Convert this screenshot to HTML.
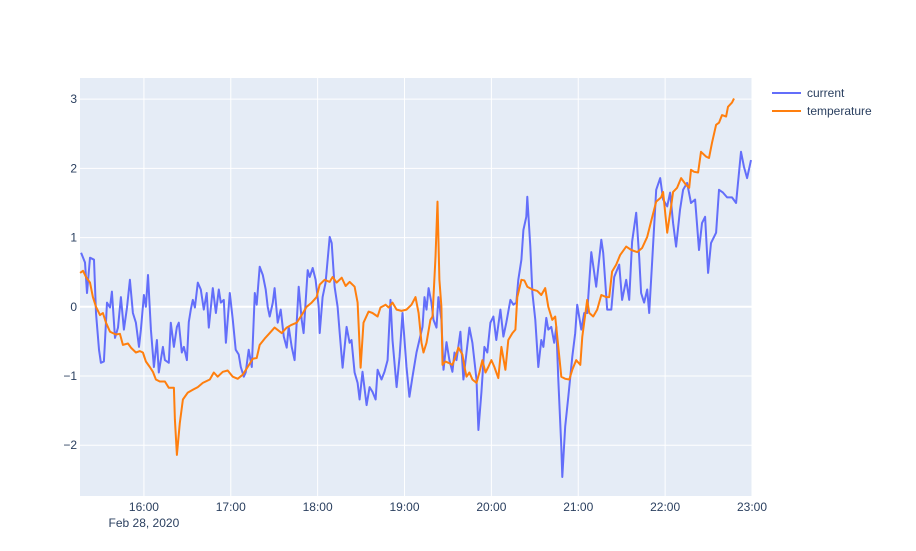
<!DOCTYPE html>
<html><head><meta charset="utf-8"><style>
html,body{margin:0;padding:0;background:#fff;}
svg text{font-family:"Liberation Sans",sans-serif;fill:#2a3f5f;font-size:12px;}
</style></head><body>
<svg id="chart" width="916" height="546">
<rect x="80" y="78" width="672" height="418" fill="#e5ecf6"/>
<g id="grid"></g>
<g id="series"></g>
<g id="ticks"></g>
<g>
<g><line x1="772" y1="93" x2="801" y2="93" stroke="#636efa" stroke-width="2"/><text x="807" y="97">current</text></g>
<g><line x1="772" y1="111" x2="801" y2="111" stroke="#ff7f0e" stroke-width="2"/><text x="807" y="115">temperature</text></g>
</g>
</svg>
<script>
// minutes after 15:00 on Feb 28, 2020
const curT=[16.6,19.3,20.7,22.8,25.5,26.9,29.0,30.3,32.4,34.5,36.6,37.9,40.0,42.1,44.1,46.2,48.3,50.3,52.4,54.5,56.6,57.9,60.0,61.4,62.8,64.8,66.9,69.0,70.3,73.1,74.5,77.2,78.6,80.7,82.8,84.1,86.2,87.6,89.7,91.0,92.4,93.8,95.2,97.2,99.3,101.4,103.4,104.8,107.6,109.7,111.7,113.1,115.2,116.6,119.3,121.4,123.4,125.5,126.9,129.0,130.3,132.4,134.5,136.6,137.9,140.0,142.1,144.1,145.5,146.9,149.0,150.3,152.4,154.5,156.6,158.6,160.0,162.1,164.1,166.9,169.0,170.3,173.1,174.5,176.6,178.6,180.7,181.4,183.4,185.5,188.3,189.7,191.7,193.8,195.2,197.2,200.0,202.1,203.4,205.5,207.6,209.0,211.0,213.8,215.9,217.9,220.0,221.4,224.1,226.2,228.3,230.3,231.7,234.5,236.6,238.6,241.4,243.4,245.5,248.3,250.3,252.4,253.8,255.2,256.6,258.6,260.0,262.1,263.4,265.5,266.9,269.0,271.0,273.1,274.5,275.9,278.6,280.7,282.8,284.8,286.9,289.7,291.0,293.1,295.2,297.2,299.3,301.4,303.4,306.2,308.3,310.3,313.1,315.2,317.2,318.6,320.7,322.1,324.1,324.8,326.9,328.3,330.3,332.4,334.5,335.9,337.9,339.3,341.4,343.4,344.8,346.2,348.3,349.0,351.0,353.1,355.9,357.9,359.3,362.1,364.1,366.2,369.0,372.4,375.9,377.2,380.0,382.8,384.8,388.3,390.3,393.1,395.2,397.2,400.0,402.1,403.4,405.5,407.6,409.0,411.0,413.8,416.6,418.6,421.4,423.4,425.5,427.6,430.3,432.4,435.2,437.9,440.7,443.4,445.5,447.6,449.7,451.7,455.2,457.2,460.0,462.8,466.2,469.0,470.3,472.4,474.5,476.6,479.3];
const curV=[.78,.64,.20,.71,.68,-.09,-.62,-.81,-.79,.06,-.01,.22,-.45,-.30,.14,-.33,-.01,.39,-.09,-.23,-.58,-.33,.17,0,.46,-.33,-.87,-.48,-.95,-.58,-.77,-.81,-.23,-.58,-.29,-.23,-.66,-.58,-.77,-.22,-.04,.10,-.01,.35,.25,-.04,.20,-.30,.27,-.09,.25,.06,.10,-.52,.20,-.19,-.62,-.69,-.87,-1.01,-.95,-.62,-.87,.20,.03,.58,.46,.25,0,-.14,.06,.27,-.23,-.04,-.43,-.59,-.29,-.58,-.77,.29,-.19,-.38,.53,.43,.56,.39,0,-.38,.14,.35,1.01,.92,.29,0,-.38,-.88,-.29,-.52,-.48,-.95,-1.10,-1.34,-.94,-1.42,-1.16,-1.23,-1.34,-.91,-1.05,-.94,-.77,.10,-.48,-1.16,-.72,-.09,-.87,-1.30,-1.01,-.66,-.48,-.29,.14,-.04,.27,.06,-.19,-.30,.14,-.19,-.91,-.51,-.77,-.94,-.66,-.77,-.36,-1.05,-.66,-.30,-.52,-1.05,-1.78,-1.24,-.58,-.66,-.23,-.14,-.48,-.04,-.43,-.23,.10,.03,.06,.39,.68,1.11,1.30,1.59,.87,.20,-.19,-.87,-.48,-.58,-.16,-.33,-.29,-.52,-.29,-1.05,-2.02,-2.46,-1.73,-1.30,-.72,-.38,.03,-.33,-.09,-.09,.79,.29,.97,.78,-.04,-.04,.43,.61,.10,.39,.10,.94,1.36,.72,.20,.06,.25,-.09,.64,1.69,1.86,1.55,1.45,1.65,1.21,.87,1.40,1.69,1.79,1.50,1.55,.82,1.21,1.30,.49,.92,1.07,1.69,1.65,1.58,1.58,1.50,1.79,2.24,2.02,1.86,2.12];
const tmpT=[15.9,17.9,20.0,22.8,24.8,26.9,29.7,31.7,33.8,36.6,38.6,40.7,43.4,45.5,49.0,51.0,54.5,57.2,59.3,61.4,64.1,66.2,68.3,71.0,74.5,77.2,80.7,81.4,82.8,84.8,86.9,90.3,93.8,97.2,100.7,105.5,108.3,111.0,114.5,117.9,121.4,124.8,128.3,131.7,135.2,137.9,140.0,143.4,146.9,150.3,155.2,158.6,162.1,165.5,169.0,172.4,175.9,179.3,181.4,184.8,188.3,190.3,193.1,196.6,199.3,202.1,205.5,207.6,209.7,211.7,215.2,217.9,221.4,223.4,226.9,229.0,231.7,234.5,237.9,241.4,244.8,247.6,249.7,251.7,253.1,255.2,257.9,259.3,261.4,262.8,264.1,265.5,266.2,268.3,270.3,273.1,275.2,277.2,280.0,281.4,282.8,284.8,286.9,289.7,291.7,293.8,295.9,297.9,300.0,302.1,304.8,306.9,309.7,311.7,314.5,316.6,317.9,320.7,322.8,324.8,328.3,331.7,334.5,337.2,339.3,342.1,344.1,346.2,348.3,351.0,353.8,355.9,358.6,361.4,362.8,366.2,367.6,370.3,373.1,375.9,379.3,381.4,383.4,386.2,389.0,393.1,396.6,400.7,404.1,407.6,411.0,413.8,417.2,418.6,421.4,424.1,425.5,428.3,431.0,434.5,436.6,437.9,440.0,442.8,444.8,448.3,450.3,452.4,455.2,457.2,459.3,462.1,463.4,466.2,467.6];
const tmpV=[.49,.52,.43,.35,.14,0,-.12,-.09,-.23,-.36,-.38,-.40,-.39,-.55,-.53,-.59,-.66,-.64,-.66,-.79,-.87,-.94,-1.05,-1.08,-1.08,-1.17,-1.17,-1.63,-2.14,-1.68,-1.34,-1.24,-1.20,-1.16,-1.10,-1.05,-.95,-1.01,-.94,-.92,-1.01,-1.04,-.98,-.87,-.75,-.74,-.55,-.46,-.38,-.30,-.38,-.30,-.26,-.23,-.12,0,.06,.14,.32,.39,.36,.43,.35,.42,.30,.36,.29,.06,-.88,-.23,-.07,-.09,-.14,-.01,.03,-.01,.06,-.04,-.06,-.04,.03,.14,-.09,-.52,-.66,-.52,-.19,-.14,.72,1.52,.39,0,-.84,-.79,-.81,-.84,-.72,-.59,-.69,-.87,-1.01,-.95,-1.05,-1.10,-.95,-.77,-.95,-.87,-.77,-.87,-1.03,-.58,-.91,-.48,-.38,-.33,.14,.39,.38,.29,.25,.23,.17,.27,0,-.19,-.14,-.58,-1.01,-1.04,-1.05,-.91,-.77,-.84,-.43,.10,-.09,-.14,-.04,.17,.14,.14,.51,.61,.75,.87,.82,.79,.85,1.01,1.29,1.52,1.58,1.66,1.07,1.45,1.66,1.72,1.86,1.76,1.72,1.98,1.95,1.94,2.24,2.17,2.15,2.37,2.63,2.66,2.77,2.75,2.89,2.95,3.01];
const yTicks=[-2,-1,0,1,2,3];
const yTickLabels=["\u22122","\u22121","0","1","2","3"];
const xTicks=[60,120,180,240,300,360,420,480];
const xTickLabels=["16:00","17:00","18:00","19:00","20:00","21:00","22:00","23:00"];
const NS="http://www.w3.org/2000/svg";
const X0=80,X1=752,Y0=496,Y1=78,tMin=15.86,tMax=480,vMin=-2.734,vMax=3.306;
function xs(t){return X0+(t-tMin)/(tMax-tMin)*(X1-X0);}
function ys(v){return Y0-(v-vMin)/(vMax-vMin)*(Y0-Y1);}
function mk(tag,a,parent){const e=document.createElementNS(NS,tag);for(const k in a)e.setAttribute(k,a[k]);parent.appendChild(e);return e;}
const grid=document.getElementById('grid'),ticks=document.getElementById('ticks'),ser=document.getElementById('series');
yTicks.forEach((v,i)=>{
 const l=mk('line',{x1:X0,x2:X1,y1:ys(v),y2:ys(v),stroke:'#fff','stroke-width':v===0?2:1},grid);
 
 
 const t=mk('text',{x:77,y:ys(v)+4,'text-anchor':'end'},ticks);t.textContent=yTickLabels[i];
 
 
});
xTicks.forEach((m,i)=>{
 const l=mk('line',{x1:xs(m),x2:xs(m),y1:Y1,y2:Y0,stroke:'#fff','stroke-width':1},grid);
 
 
 const t=mk('text',{x:xs(m),y:511,'text-anchor':'middle'},ticks);t.textContent=xTickLabels[i];
 
 
});
const d=mk('text',{x:xs(60),y:527,'text-anchor':'middle'},ticks);d.textContent="Feb 28, 2020";


function draw(T,V,color,name){
 const p=T.map((t,i)=>(i?'L':'M')+xs(t).toFixed(1)+','+ys(V[i]).toFixed(1)).join('');
 const e=mk('path',{d:p,fill:'none',stroke:color,'stroke-width':2,'stroke-linejoin':'round'},ser);
 
 
}
draw(curT,curV,'#636efa','current-line');
draw(tmpT,tmpV,'#ff7f0e','temperature-line');
</script>
</body></html>
